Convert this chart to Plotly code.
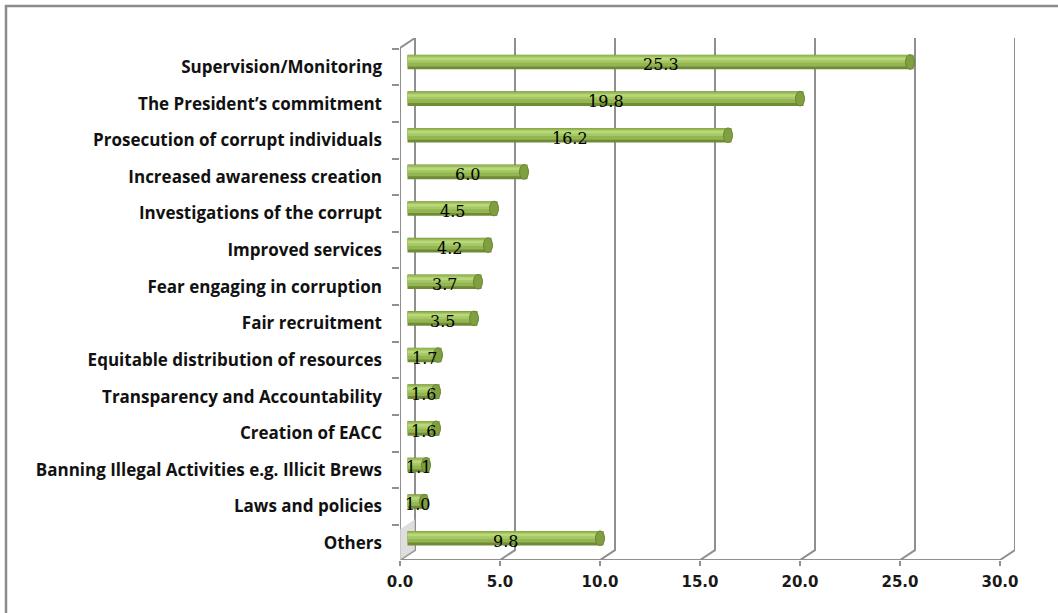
import plotly.graph_objects as go

# Survey responses: what has helped reduce corruption (%)
categories = [
    "Supervision/Monitoring",
    "The President\u2019s commitment",
    "Prosecution of corrupt individuals",
    "Increased awareness creation",
    "Investigations of the corrupt",
    "Improved services",
    "Fear engaging in corruption",
    "Fair recruitment",
    "Equitable distribution of resources",
    "Transparency and Accountability",
    "Creation of EACC",
    "Banning Illegal Activities e.g. Illicit Brews",
    "Laws and policies",
    "Others",
]
values = [25.3, 19.8, 16.2, 6.0, 4.5, 4.2, 3.7, 3.5, 1.7, 1.6, 1.6, 1.1, 1.0, 9.8]
x_ticks = [0, 5, 10, 15, 20, 25, 30]

W, H = 1058, 613
ML, MR, MT, MB = 400, 43, 38, 53

idx = list(range(len(categories)))
DX, DY = 0.75, 0.27          # depth of the 3-D box in axis units
X_MAX = x_ticks[-1] + DX
Y_TOP, Y_BOT = -0.79, 13.46
GRID = "#8f8f8f"
HALF = 0.20                  # half thickness of a cylinder

fig = go.Figure()

# cylinder-like bars built from stacked layers on the mid-depth plane
layers = [
    (2 * HALF, -HALF, "#6f8b34"),
    (0.31, -0.19, "#93b552"),
    (0.17, -0.15, "#a6c864"),
    (0.07, -0.12, "#b8d879"),
]
for w, off, col in layers:
    fig.add_trace(go.Bar(
        x=values, y=idx, orientation="h", xaxis="x2", yaxis="y2",
        width=w, offset=off, marker=dict(color=col, line=dict(width=0)),
        hoverinfo="skip", showlegend=False,
    ))

shapes = []
# back wall gridlines dropping onto the floor
for v in x_ticks:
    shapes.append(dict(
        type="path", xref="x", yref="y", layer="below",
        path=f"M {v + DX},{Y_TOP} L {v + DX},{Y_BOT - DY} L {v},{Y_BOT}",
        line=dict(color=GRID, width=2),
    ))
# front vertical axis with its slant to the back wall
shapes.append(dict(
    type="path", xref="x", yref="y", layer="below",
    path=f"M {DX},{Y_TOP} L 0,{Y_TOP + DY} L 0,{Y_BOT}",
    line=dict(color=GRID, width=2),
))
# front floor edge
shapes.append(dict(
    type="line", xref="x", yref="y", layer="below",
    x0=0, x1=x_ticks[-1], y0=Y_BOT, y1=Y_BOT,
    line=dict(color=GRID, width=2),
))
# shaded strip of the side wall near the floor
shapes.append(dict(
    type="path", xref="x", yref="y", layer="below",
    path=f"M 0,12.62 L {DX},12.35 L {DX},{Y_BOT - DY} L 0,{Y_BOT} Z",
    fillcolor="#d6d6d6", opacity=0.8, line=dict(width=0),
))
# elliptical end caps of the cylinders
for i, v in zip(idx, values):
    shapes.append(dict(
        type="circle", xref="x2", yref="y2", layer="above",
        xsizemode="pixel", xanchor=v, x0=-8, x1=1,
        y0=i - HALF, y1=i + HALF,
        fillcolor="#7f9f40", line=dict(color="#6a8531", width=1),
    ))
# outer frame
shapes.append(dict(
    type="rect", xref="paper", yref="paper",
    x0=-(ML - 6) / (W - ML - MR), x1=1.2, y0=-0.2, y1=1 + (MT - 6) / (H - MT - MB),
    line=dict(color="#8c8c8c", width=2.5), fillcolor="rgba(0,0,0,0)",
))

# value labels centred along each bar
annotations = [
    dict(x=v / 2, y=i, xref="x2", yref="y2", text=f"{v:.1f}", showarrow=False,
         yshift=-3, font=dict(family="DejaVu Serif", size=16, color="#000000"))
    for i, v in zip(idx, values)
]

fig.update_layout(
    width=W, height=H,
    margin=dict(l=ML, r=MR, t=MT, b=MB),
    paper_bgcolor="white", plot_bgcolor="white",
    barmode="overlay", showlegend=False,
    shapes=shapes, annotations=annotations,
    xaxis=dict(
        range=[0, X_MAX], tickvals=x_ticks, tickformat=".1f",
        showgrid=False, zeroline=False, showline=False,
        ticks="outside", ticklen=5, tickwidth=2, tickcolor=GRID,
        tickfont=dict(family="DejaVu Sans", size=15, color="#1a1a1a", weight="bold"),
        ticklabelstandoff=3,
    ),
    yaxis=dict(
        range=[Y_BOT, Y_TOP], tickvals=idx, ticktext=categories,
        showgrid=False, zeroline=False, showline=False, ticks="",
        minor=dict(tick0=0.5, dtick=1, ticks="outside", ticklen=7,
                   tickwidth=2, tickcolor=GRID, showgrid=False),
        tickfont=dict(family="Open Sans", size=17, color="#111111", weight="bold"),
        ticklabelstandoff=17,
    ),
    xaxis2=dict(range=[-DX / 2, X_MAX - DX / 2], overlaying="x", visible=False),
    yaxis2=dict(range=[Y_BOT + DY / 2, Y_TOP + DY / 2], overlaying="y", visible=False),
)

fig.write_html("out.html")
